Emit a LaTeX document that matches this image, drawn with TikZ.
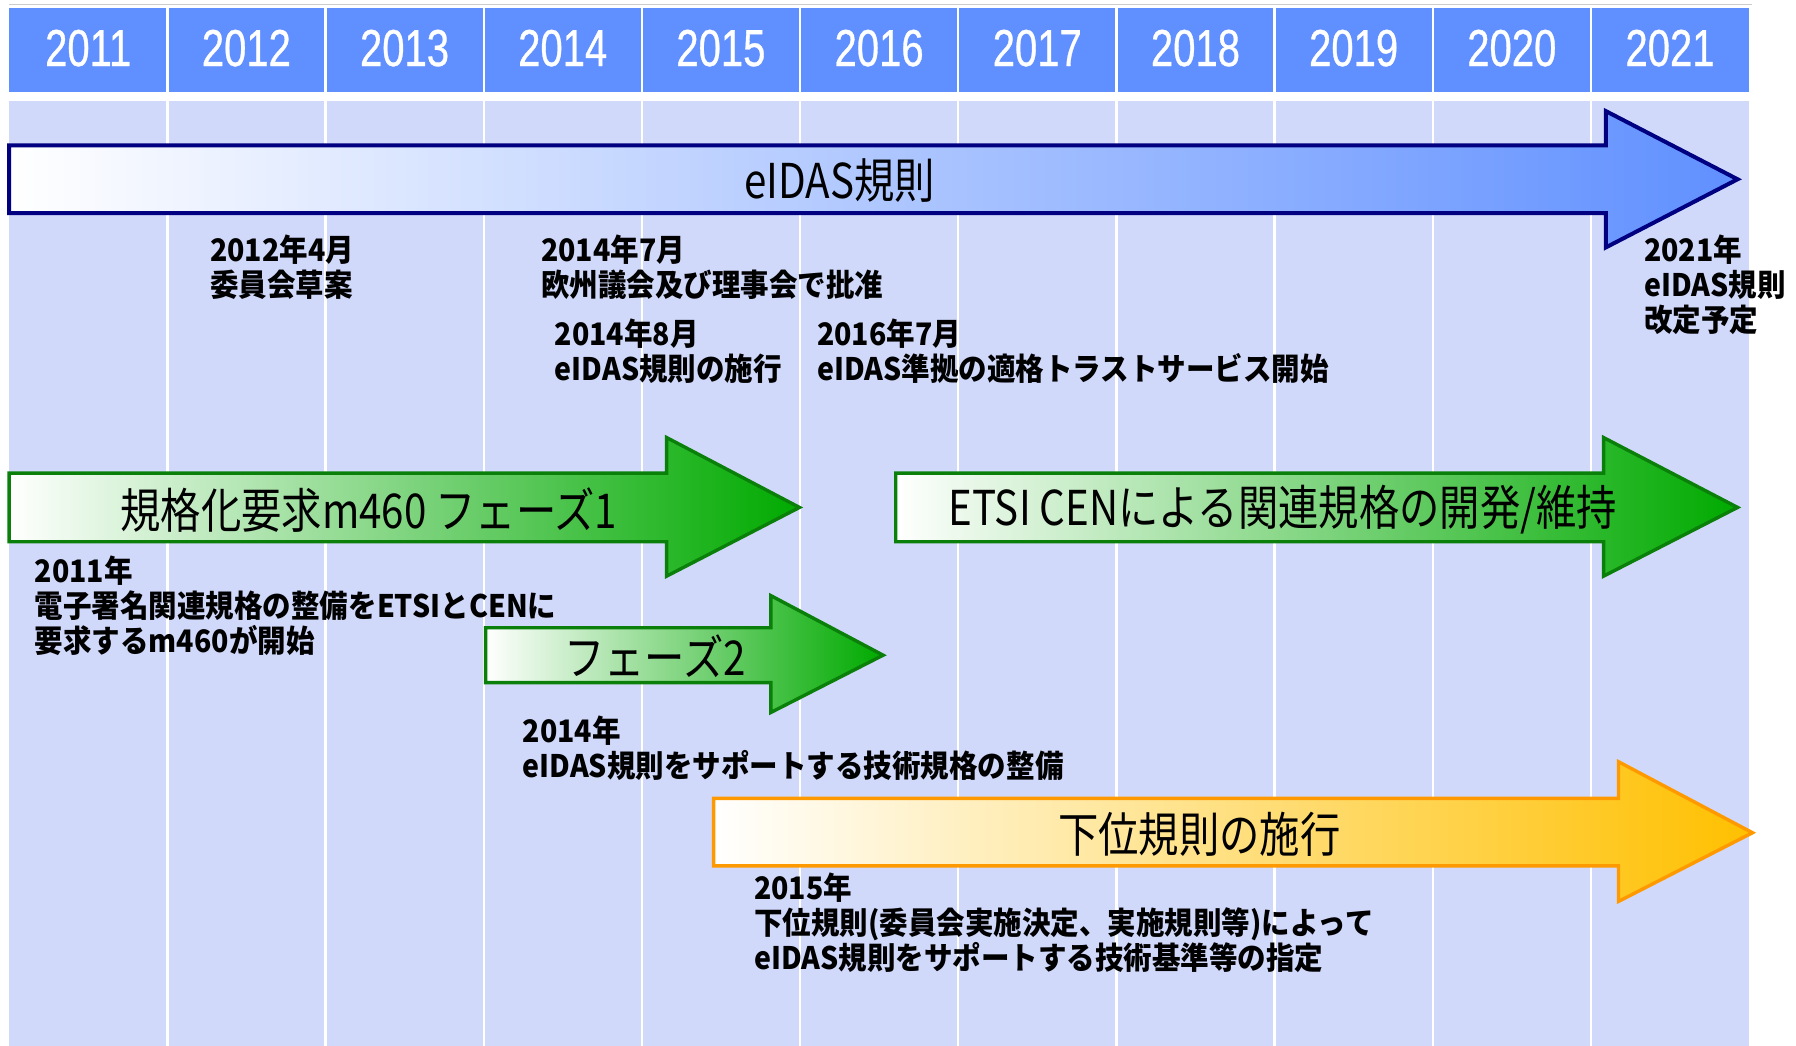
\documentclass[tikz,border=0pt]{standalone}
\usepackage{fontspec}
\setmainfont{Liberation Sans}
\newfontfamily\yearfont{Liberation Sans}[FakeStretch=0.77 , FakeBold=0.6]
\newfontfamily\jpfont{Noto Sans CJK JP}[FakeStretch=0.92]
\newfontfamily\jpwide{Noto Sans CJK JP}[FakeStretch=0.84]
\usepackage{tikz}

\definecolor{hdrblue}{RGB}{96,143,255}
\definecolor{bodyblue}{RGB}{209,217,251}
\definecolor{navy}{RGB}{0,0,128}
\definecolor{eidasblue}{RGB}{96,144,255}
\definecolor{linegreen}{RGB}{10,128,10}
\definecolor{leafgreen}{RGB}{0,170,0}
\definecolor{orangeline}{RGB}{255,153,0}
\definecolor{amber}{RGB}{255,192,0}

\begin{document}
\begin{tikzpicture}[x = 0.5727pt , y = -0.5727pt ,
    year/.style = {font = \yearfont\fontsize{26}{30}\selectfont , text = white},
    note/.style = {font = \jpfont\bfseries\fontsize{15.5}{17.5}\selectfont , anchor = north west , align = left , inner sep = 0pt},
    arrowtext/.style = {font = \jpwide\fontsize{24}{28}\selectfont , inner sep = 0pt},
    bluearrow/.style = {draw = navy , line width = 2pt , left color = white , right color = eidasblue},
    greenarrow/.style = {draw = linegreen , line width = 1.7pt , left color = white , right color = leafgreen},
    orangearrow/.style = {draw = orangeline , line width = 1.7pt , left color = white , right color = amber}]
    \useasboundingbox (0,0) rectangle (1568,913);
    \fill[white] (0,0) rectangle (1568,913);
    \draw[gray!40] (8,4) -- (1530,4);
    \fill[hdrblue] (8,7) rectangle (1527,80); % 年の見出し
    \fill[bodyblue] (8,88) rectangle (1527,913);
    \foreach \i in {1,...,10}
        \draw[white , line width = 1.2pt] (8+138.1*\i,7) -- (8+138.1*\i,913);
    \foreach \yr [count = \i from 0] in {2011,...,2021}
        \node[year] (hdr\yr) at (77+138.1*\i,42) {\yr};

    % eIDAS規則
    \path[bluearrow] (8,127) -- (1402,127) -- (1402,97) -- (1517,156.5) -- (1402,216) -- (1402,186) -- (8,186) -- cycle;
    \node[arrowtext] (eidas) at (733,158) {eIDAS規則};
    \node[note] (apr2012) at (183,205) {2012年4月\\委員会草案};
    \node[note] (jul2014) at (472,205) {2014年7月\\欧州議会及び理事会で批准};
    \node[note] (aug2014) at (484,278) {2014年8月\\eIDAS規則の施行};
    \node[note] (jul2016) at (713,278) {2016年7月\\eIDAS準拠の適格トラストサービス開始};
    \node[note] (rev2021) at (1435,205) {2021年\\eIDAS規則\\改定予定};

    % 規格化要求m460
    \path[greenarrow] (8,413) -- (582,413) -- (582,382) -- (698,443) -- (582,503) -- (582,473) -- (8,473) -- cycle;
    \node[arrowtext] (phase1) at (322,445) {規格化要求m460 フェーズ1};
    \path[greenarrow] (782,413) -- (1400,413) -- (1400,382) -- (1517,443) -- (1400,503) -- (1400,473) -- (782,473) -- cycle;
    \node[arrowtext] (etsi) at (1120,445) {ETSI CENによる関連規格の開発/維持};
    \node[note] (m460) at (30,485) {2011年\\電子署名関連規格の整備をETSIとCENに\\要求するm460が開始};
    \path[greenarrow] (424,548) -- (673,548) -- (673,520) -- (771,572) -- (673,622) -- (673,596) -- (424,596) -- cycle;
    \node[arrowtext] (phase2) at (572,573) {フェーズ2};
    \node[note] (tech2014) at (456,625) {2014年\\eIDAS規則をサポートする技術規格の整備};

    % 下位規則
    \path[orangearrow] (623,697) -- (1413,697) -- (1413,665) -- (1530,727) -- (1413,787) -- (1413,756) -- (623,756) -- cycle;
    \node[arrowtext] (lower) at (1047,728) {下位規則の施行};
    \node[note] (imp2015) at (658,762) {2015年\\下位規則(委員会実施決定、実施規則等)によって\\eIDAS規則をサポートする技術基準等の指定};
\end{tikzpicture}
\end{document}
